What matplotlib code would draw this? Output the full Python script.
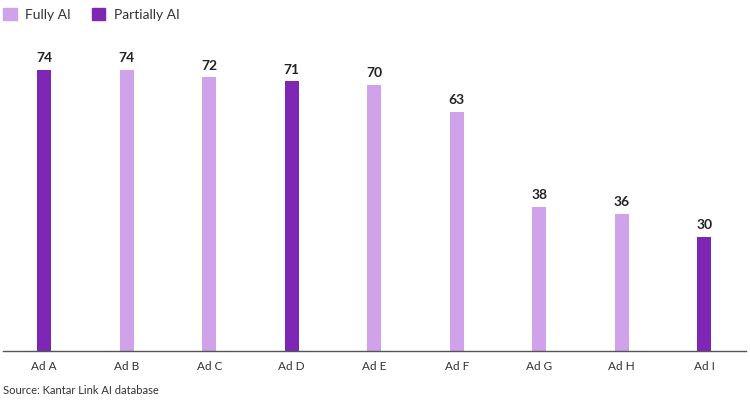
import matplotlib.pyplot as plt
from matplotlib.patches import Patch

plt.rcParams['font.family'] = ['Lato', 'DejaVu Sans']

ads = ['Ad A', 'Ad B', 'Ad C', 'Ad D', 'Ad E', 'Ad F', 'Ad G', 'Ad H', 'Ad I']
scores = [74, 74, 72, 71, 70, 63, 38, 36, 30]
kind = ['Partially AI', 'Fully AI', 'Fully AI', 'Partially AI', 'Fully AI',
        'Fully AI', 'Fully AI', 'Fully AI', 'Partially AI']

colours = {'Fully AI': '#D0A2EA', 'Partially AI': '#7E27B5'}

fig = plt.figure(figsize=(7.5, 4), dpi=100)
ax = fig.add_axes([0.004, 0.1225, 0.99, 0.76])

x = list(range(len(ads)))
ax.bar(x, scores, width=0.17, color=[colours[k] for k in kind])
for i, v in zip(x, scores):
    ax.text(i, v + 1.5, str(v), ha='center', va='bottom', fontsize=10,
            fontweight='bold', color='#222222')

ax.set_xlim(-0.5, 8.5)
ax.set_ylim(0, 80)
ax.set_xticks(x)
ax.set_xticklabels(ads, fontsize=8.5, color='#333333')
ax.tick_params(axis='x', length=0, pad=7)
ax.set_yticks([])
for s in ['top', 'right', 'left']:
    ax.spines[s].set_visible(False)
ax.spines['bottom'].set_color('#555555')
ax.spines['bottom'].set_linewidth(1)

handles = [Patch(color=colours['Fully AI'], label='Fully AI'),
           Patch(color=colours['Partially AI'], label='Partially AI')]
fig.legend(handles=handles, loc='upper left', bbox_to_anchor=(-0.013, 1.012),
           ncol=2, frameon=False, fontsize=10, handlelength=1.0, handleheight=1.0,
           handletextpad=0.6, columnspacing=1.5, labelcolor='#333333')

fig.text(0.004, 0.015, 'Source: Kantar Link AI database', fontsize=8, color='#333333')

fig.savefig('out.png', dpi=100)
